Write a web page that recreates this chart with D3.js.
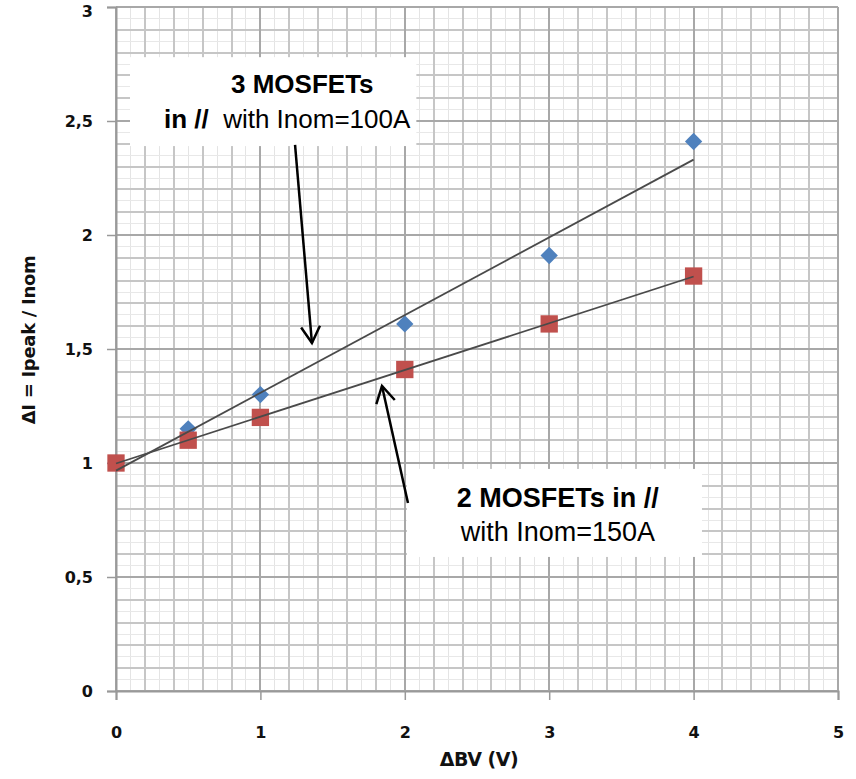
<!DOCTYPE html>
<html>
<head>
<meta charset="utf-8">
<script src="https://cdn.jsdelivr.net/npm/d3@7"></script>
<style>
  body { margin: 0; background: #fff; }
  svg { display: block; }
</style>
</head>
<body>
<div id="chart"></div>
<script>
// dV values (V)
const deltaBV = [0, 0.5, 1, 2, 3, 4];
// 3 MOSFETs in // with Inom=100A
const threeMosfets = [1.0, 1.15, 1.30, 1.61, 1.91, 2.41];
// 2 MOSFETs in // with Inom=150A
const twoMosfets = [1.0, 1.10, 1.20, 1.41, 1.61, 1.82];
const xTicks = [0, 1, 2, 3, 4, 5];
const yTicks = [0, 0.5, 1, 1.5, 2, 2.5, 3];

const width = 856, height = 779;
const margin = { top: 7, right: 18, bottom: 88, left: 116 };

const svg = d3.select('#chart').append('svg')
  .attr('width', width)
  .attr('height', height);

const x = d3.scaleLinear().domain([0, 5]).range([margin.left, width - margin.right]);
const y = d3.scaleLinear().domain([0, 3]).range([height - margin.bottom, margin.top]);

const grid = svg.append('g').attr('shape-rendering', 'crispEdges');

// faint sub grid, then minor, then major
grid.selectAll('.vf').data(d3.range(1, 50, 2).map(d => d / 10)).enter().append('line')
  .attr('x1', d => x(d)).attr('x2', d => x(d))
  .attr('y1', y(0)).attr('y2', y(3))
  .attr('stroke', '#e4e4e4');
grid.selectAll('.hf').data(d3.range(1, 60, 2).map(d => d / 20)).enter().append('line')
  .attr('x1', x(0)).attr('x2', x(5))
  .attr('y1', d => y(d)).attr('y2', d => y(d))
  .attr('stroke', '#e8e8e8');
grid.selectAll('.vm').data(d3.range(0, 26).map(d => d / 5)).enter().append('line')
  .attr('x1', d => x(d)).attr('x2', d => x(d))
  .attr('y1', y(0)).attr('y2', y(3))
  .attr('stroke', '#c6c6c6').attr('stroke-width', 2);
grid.selectAll('.hm').data(d3.range(0, 31).map(d => d / 10)).enter().append('line')
  .attr('x1', x(0)).attr('x2', x(5))
  .attr('y1', d => y(d)).attr('y2', d => y(d))
  .attr('stroke', '#c6c6c6').attr('stroke-width', 2);
grid.selectAll('.vM').data(xTicks).enter().append('line')
  .attr('x1', d => x(d)).attr('x2', d => x(d))
  .attr('y1', y(0)).attr('y2', y(3))
  .attr('stroke', '#a8a8a8').attr('stroke-width', 2);
grid.selectAll('.hM').data(yTicks).enter().append('line')
  .attr('x1', x(0)).attr('x2', x(5))
  .attr('y1', d => y(d)).attr('y2', d => y(d))
  .attr('stroke', '#a8a8a8').attr('stroke-width', 2);

const fmt = d => String(d).replace('.', ',');

const xAxis = svg.append('g')
  .attr('transform', 'translate(0,' + y(0) + ')')
  .call(d3.axisBottom(x).tickValues(xTicks).tickFormat(fmt).tickSize(9).tickPadding(27));
const yAxis = svg.append('g')
  .attr('transform', 'translate(' + x(0) + ',0)')
  .call(d3.axisLeft(y).tickValues(yTicks).tickFormat(fmt).tickSize(9).tickPadding(14));

[xAxis, yAxis].forEach(a => {
  a.select('.domain').attr('stroke', '#999').attr('stroke-width', 2);
  a.selectAll('.tick line').attr('stroke', '#999').attr('stroke-width', 1.5);
  a.selectAll('.tick text')
    .attr('fill', '#111')
    .style('font-family', 'DejaVu Sans, Verdana, sans-serif')
    .style('font-weight', 'bold')
    .style('font-size', '16px');
});
// top label sits against the page edge
yAxis.selectAll('.tick text').filter(d => d === 3).attr('dy', '0.6em');

svg.append('text')
  .attr('x', x(2.5) + 2).attr('y', 766)
  .attr('text-anchor', 'middle')
  .style('font-family', 'DejaVu Sans, Verdana, sans-serif')
  .style('font-weight', 'bold').style('font-size', '19px')
  .style('letter-spacing', '-0.5px')
  .attr('fill', '#111')
  .text('ΔBV (V)');

svg.append('text')
  .attr('transform', 'translate(35,' + y(1.54) + ') rotate(-90)')
  .attr('text-anchor', 'middle')
  .style('font-family', 'DejaVu Sans, Verdana, sans-serif')
  .style('font-weight', 'bold').style('font-size', '18px')
  .style('letter-spacing', '-0.3px')
  .attr('fill', '#111')
  .text('ΔI = Ipeak / Inom');

// least squares trend lines
function fit(xs, ys) {
  const mx = d3.mean(xs), my = d3.mean(ys);
  const sxy = d3.sum(xs, (v, i) => (v - mx) * (ys[i] - my));
  const sxx = d3.sum(xs, v => (v - mx) * (v - mx));
  const b = sxy / sxx;
  return { a: my - b * mx, b: b };
}

const series = [
  { values: threeMosfets, color: '#4f81bd', shape: d3.symbolSquare, size: 150, rot: 45 },
  { values: twoMosfets, color: '#c0504d', shape: d3.symbolSquare, size: 300, rot: 0 }
];

series.forEach(s => {
  const pts = deltaBV.map((d, i) => ({ x: d, y: s.values[i] }));
  svg.append('g').selectAll('path').data(pts).enter().append('path')
    .attr('d', d3.symbol().type(s.shape).size(s.size))
    .attr('transform', d => 'translate(' + x(d.x) + ',' + y(d.y) + ') rotate(' + s.rot + ')')
    .attr('fill', s.color);
});

series.forEach(s => {
  const f = fit(deltaBV, s.values);
  const ends = d3.extent(deltaBV);
  svg.append('line')
    .attr('x1', x(ends[0])).attr('y1', y(f.a + f.b * ends[0]))
    .attr('x2', x(ends[1])).attr('y2', y(f.a + f.b * ends[1]))
    .attr('stroke', '#4a4a4a').attr('stroke-width', 1.8);
});

// annotation boxes and arrows
const boxes = [
  { x0: 0.097, x1: 2.08, y0: 2.78, y1: 2.39, cx: [1.29, 1.185], size: 26,
    lines: [[['3 MOSFETs', true]], [['in //', true], ['\u00a0\u00a0with Inom=100A', false]]], base: [93, 128] },
  { x0: 2.015, x1: 4.058, y0: 0.974, y1: 0.588, cx: [3.06, 3.06], size: 27,
    lines: [[['2 MOSFETs in //', true]], [['with Inom=150A', false]]], base: [507, 541] }
];

boxes.forEach(b => {
  svg.append('rect')
    .attr('x', x(b.x0)).attr('y', y(b.y0))
    .attr('width', x(b.x1) - x(b.x0)).attr('height', y(b.y1) - y(b.y0))
    .attr('fill', '#fff');
  b.lines.forEach((ln, i) => {
    const t = svg.append('text')
      .attr('x', x(b.cx[i])).attr('y', b.base[i])
      .attr('text-anchor', 'middle')
      .style('font-family', 'Liberation Sans, Arial, sans-serif')
      .style('font-size', b.size + 'px')
      .attr('fill', '#000');
    ln.forEach(p => t.append('tspan').style('font-weight', p[1] ? 'bold' : 'normal').text(p[0]));
  });
});

const arrows = [
  { from: [1.24, 2.395], to: [1.357, 1.526] },
  { from: [2.022, 0.825], to: [1.842, 1.338] }
];

arrows.forEach(a => {
  const x1 = x(a.from[0]), y1 = y(a.from[1]), x2 = x(a.to[0]), y2 = y(a.to[1]);
  const ang = Math.atan2(y2 - y1, x2 - x1);
  const len = 19, spread = 0.52;
  svg.append('line')
    .attr('x1', x1).attr('y1', y1).attr('x2', x2).attr('y2', y2)
    .attr('stroke', '#000').attr('stroke-width', 2.5);
  svg.append('path')
    .attr('d', 'M' + (x2 - len * Math.cos(ang - spread)) + ',' + (y2 - len * Math.sin(ang - spread)) +
      'L' + x2 + ',' + y2 +
      'L' + (x2 - len * Math.cos(ang + spread)) + ',' + (y2 - len * Math.sin(ang + spread)))
    .attr('fill', 'none').attr('stroke', '#000').attr('stroke-width', 2.5)
    .attr('stroke-linejoin', 'miter');
});
</script>
</body>
</html>
